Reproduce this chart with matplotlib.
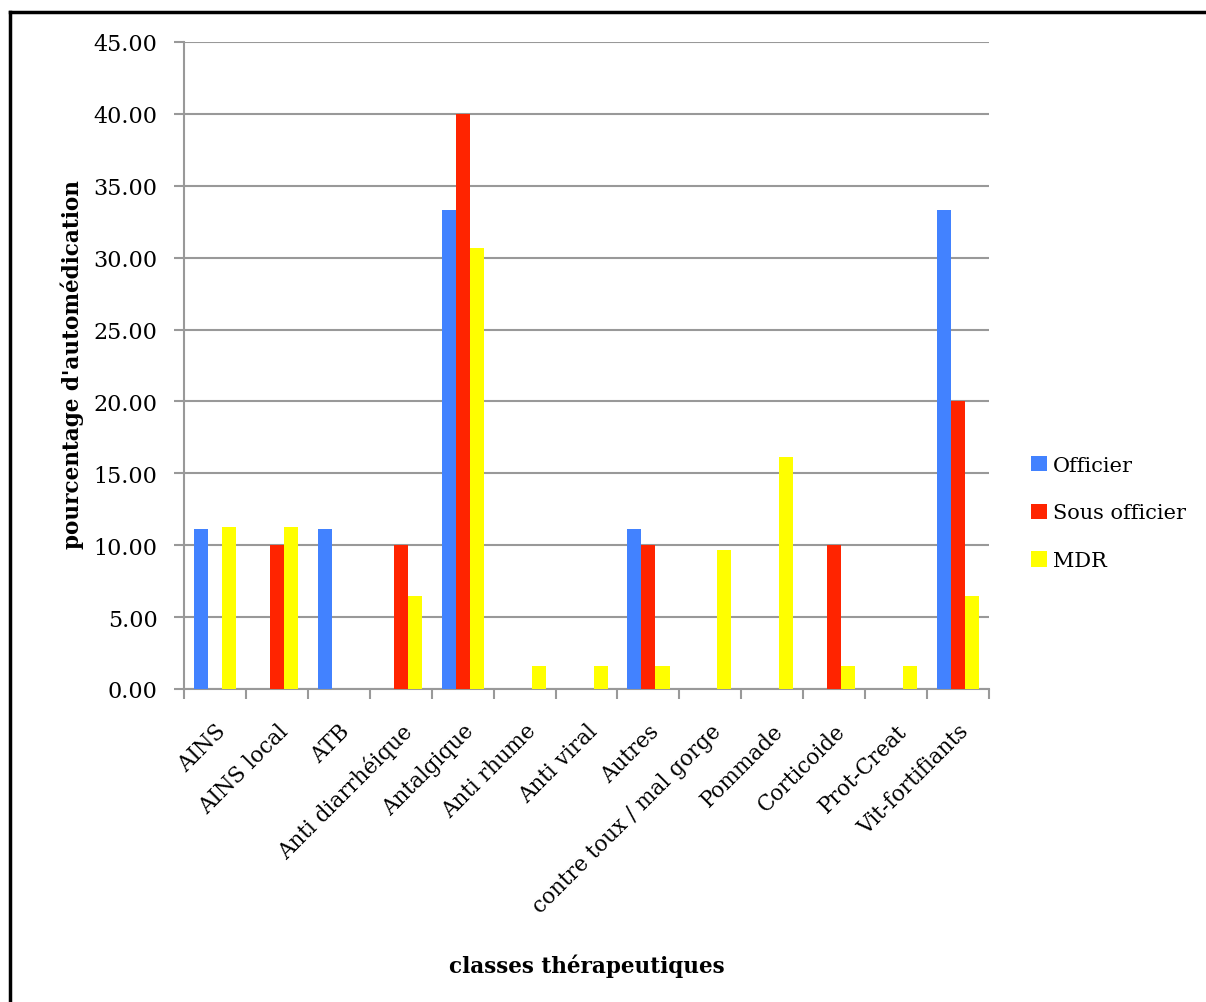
import matplotlib
matplotlib.use("Agg")
import matplotlib.pyplot as plt
from matplotlib.lines import Line2D
from matplotlib.ticker import FormatStrFormatter
import numpy as np

categories = ["AINS", "AINS local", "ATB", "Anti diarrhéique", "Antalgique",
              "Anti rhume", "Anti viral", "Autres", "contre toux / mal gorge",
              "Pommade", "Corticoide", "Prot-Creat", "Vit-fortifiants"]
officier = [11.11, 0, 11.11, 0, 33.33, 0, 0, 11.11, 0, 0, 0, 0, 33.33]
sous_officier = [0, 10.0, 0, 10.0, 40.0, 0, 0, 10.0, 0, 0, 10.0, 0, 20.0]
mdr = [11.29, 11.29, 0, 6.45, 30.65, 1.61, 1.61, 1.61, 9.68, 16.13, 1.61, 1.61, 6.45]
series_names = ["Officier", "Sous officier", "MDR"]
yticks = [0, 5, 10, 15, 20, 25, 30, 35, 40, 45]

colors = ["#4282FF", "#FF2400", "#FFFF00"]
serif = ["DejaVu Serif"]
plt.rcParams['font.family'] = serif

fig = plt.figure(figsize=(12.06, 10.03), dpi=100)
ax = fig.add_axes([184/1206, 1-690/1003, (989-184)/1206, (690-43)/1003])

x = np.arange(len(categories))
w = 0.227
for i, (vals, name, c) in enumerate(zip([officier, sous_officier, mdr], series_names, colors)):
    ax.bar(x + (i - 1) * w, vals, width=w, color=c, label=name, zorder=3)

ax.set_xlim(-0.5, len(categories) - 0.5)
ax.set_ylim(0, 45)
ax.set_yticks(yticks)
ax.yaxis.set_major_formatter(FormatStrFormatter('%.2f'))
ax.set_xticks(np.arange(len(categories) + 1) - 0.5, minor=False)
ax.set_xticklabels([])
ax.set_xticks(x, minor=True)
ax.set_xticklabels(categories, minor=True, rotation=45, ha='right', rotation_mode='anchor', fontsize=15.5)
ax.tick_params(axis='x', which='minor', length=0, pad=22)
ax.tick_params(axis='x', which='major', length=7, color='#999999', width=1.5, direction='out')
ax.tick_params(axis='y', length=7, color='#999999', width=1.5, labelsize=16, pad=12)
ax.grid(axis='y', color='#999999', linewidth=1.5, zorder=0)
for s in ['top', 'right']:
    ax.spines[s].set_visible(False)
for s in ['left', 'bottom']:
    ax.spines[s].set_color('#999999')
    ax.spines[s].set_linewidth(1.5)

fig.text(72/1206, 1-365/1003, "pourcentage d'automédication", fontsize=15.5, fontweight='bold',
         rotation=90, ha='center', va='center')
fig.text(587/1206, 1-966/1003, "classes thérapeutiques", fontsize=15.5,
         fontweight='bold', ha='center', va='center')

leg = ax.legend(loc='center left', bbox_to_anchor=(1 + (1031-989)/805, (690-514)/647), frameon=False,
                fontsize=15, handlelength=0.75, handleheight=0.75, handletextpad=0.3,
                labelspacing=1.38, borderaxespad=0, borderpad=0)

fig.add_artist(Line2D([9.5/1206, 9.5/1206], [0, 1-13/1003], color='black', linewidth=2.5, transform=fig.transFigure))
fig.add_artist(Line2D([9.5/1206, 1], [1-13/1003, 1-13/1003], color='black', linewidth=2.5, transform=fig.transFigure))

fig.savefig("out.png", dpi=100)
